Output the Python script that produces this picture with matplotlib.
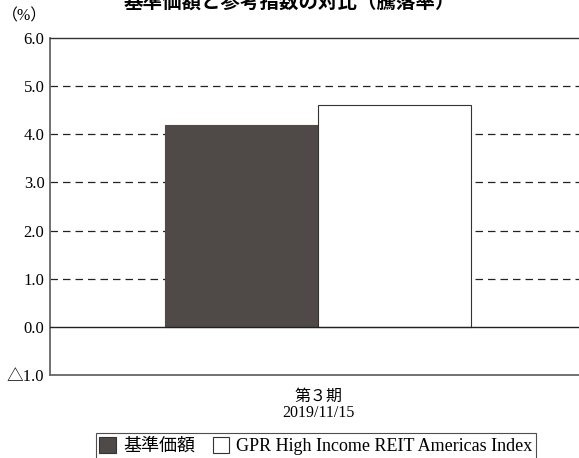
import matplotlib
matplotlib.use("Agg")
import matplotlib.pyplot as plt
from matplotlib.patches import Patch

plt.rcParams['font.family'] = ['Liberation Serif', 'Noto Sans CJK JP']

categories = ["第３期\n2019/11/15"]
fund_values = [4.2]
index_values = [4.6]
series_names = ["基準価額", "GPR High Income REIT Americas Index"]
yticks = [-1.0, 0.0, 1.0, 2.0, 3.0, 4.0, 5.0, 6.0]
ytick_labels = ["△1.0" if v < 0 else f"{v:.1f}" for v in yticks]

fig = plt.figure(figsize=(5.79, 4.58), dpi=100)
ax = fig.add_axes([50 / 579, 1 - 375 / 458, 529 / 579, 337 / 458])

w = 1.0
ax.bar(-w / 2, fund_values[0], width=w, color="#4f4a48", edgecolor="#4f4a48",
       linewidth=0.8, zorder=3)
ax.bar(w / 2, index_values[0], width=w, color="white", edgecolor="#333333",
       linewidth=0.8, zorder=3)

for y in yticks[2:-1]:
    ax.axhline(y, color="#222222", linestyle=(0, (6, 4)), linewidth=0.9, zorder=1)
ax.axhline(0, color="#222222", linewidth=1.0, zorder=4)

ax.set_ylim(-1, 6)
ax.set_xlim(-1.752, 1.706)
ax.set_yticks(yticks)
ax.set_yticklabels(ytick_labels, fontsize=12)
ax.set_xticks([0])
ax.set_xticklabels(categories, fontsize=11.5, linespacing=1.0)
ax.tick_params(axis="both", length=0, pad=4)
ax.tick_params(axis="x", pad=10)

for side in ["left", "bottom"]:
    ax.spines[side].set_color("#666666")
    ax.spines[side].set_linewidth(1.3)
ax.spines["top"].set_color("#333333")
ax.spines["top"].set_linewidth(1.0)
ax.spines["right"].set_visible(False)

fig.text(25 / 579, 1 - 16 / 458, "（%）", fontsize=11.5, ha="center", va="center")
fig.text(0.5, 1 - 2 / 458, "基準価額と参考指数の対比（騰落率）", fontsize=14,
         fontweight="bold", ha="center", va="center",
         family=["Noto Sans CJK JP"])

handles = [Patch(facecolor="#4f4a48", edgecolor="#333333", linewidth=0.8),
           Patch(facecolor="white", edgecolor="#333333", linewidth=0.8)]
leg = fig.legend(handles, series_names, loc="center", ncol=2,
                 bbox_to_anchor=(316 / 579, 1 - 446 / 458), fontsize=13,
                 frameon=True, fancybox=False, edgecolor="#222222",
                 handlelength=0.9, handleheight=1.0, handletextpad=0.4,
                 columnspacing=1.0, borderpad=0.2, borderaxespad=0)
leg.get_frame().set_linewidth(0.8)

fig.savefig("out.png", dpi=100)
